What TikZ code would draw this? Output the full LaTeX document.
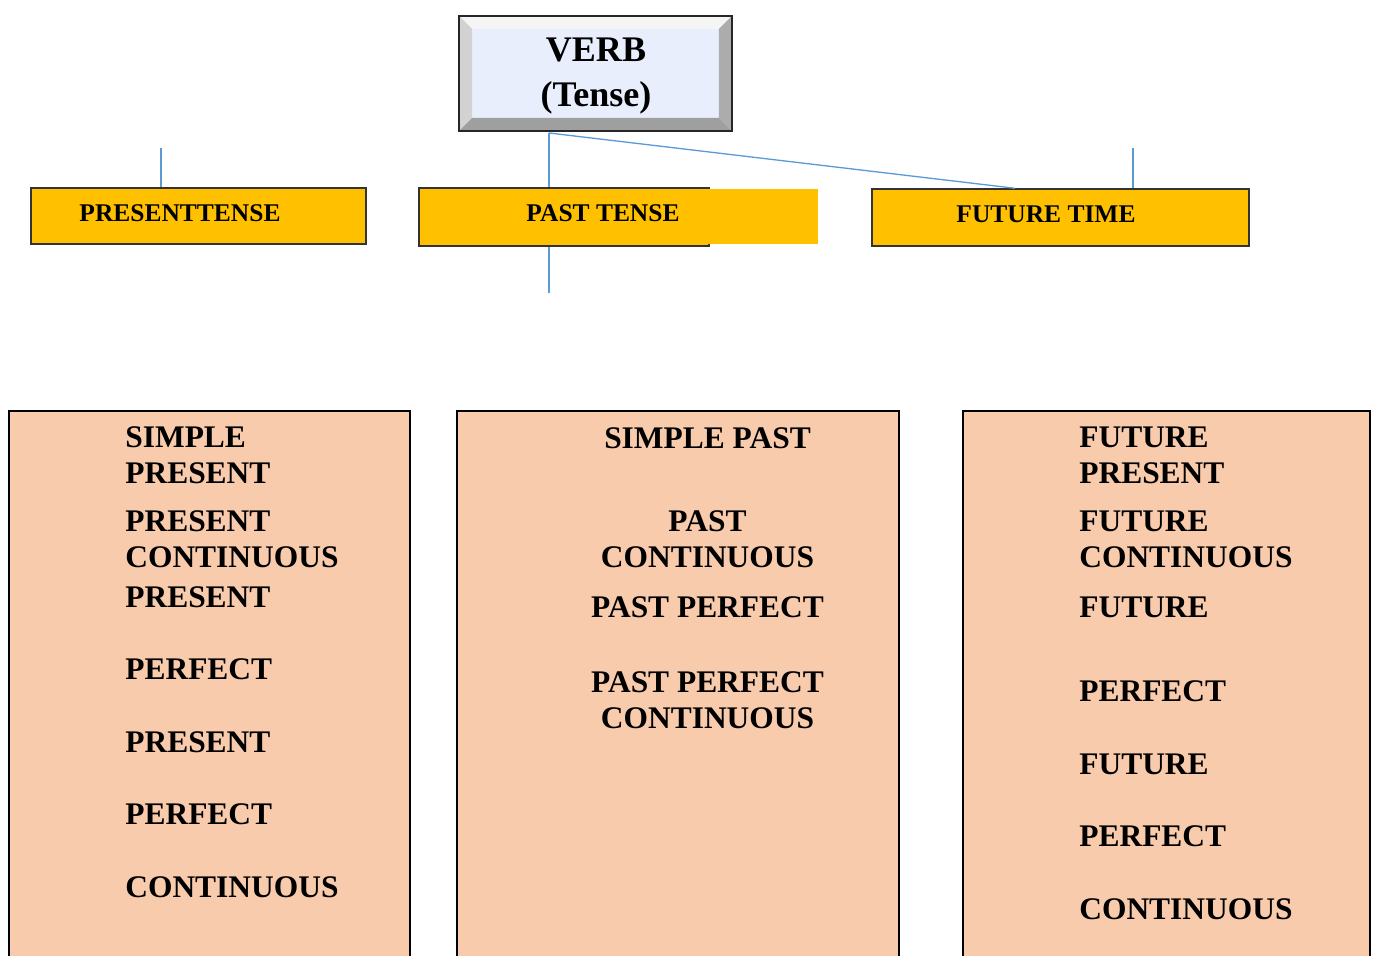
\documentclass[tikz,border=0pt]{standalone}
\usepackage{fontspec}
\setmainfont{Liberation Serif}
\usetikzlibrary{calc}
\definecolor{tenseyellow}{HTML}{FFC000}
\definecolor{formpeach}{HTML}{F8CBAD}
\definecolor{linkblue}{HTML}{5B9BD5}
\definecolor{verbfill}{HTML}{E8EEFC}
\tikzset{
  tensebox/.style={draw=black!80, line width=0.8pt, fill=tenseyellow, inner sep=0},
  formbox/.style={draw=black, line width=1.1pt, fill=formpeach, inner sep=0},
  link/.style={draw=linkblue, line width=0.75pt},
  verbtext/.style={font=\fontsize{20.5}{24}\selectfont\bfseries, inner sep=0, anchor=base},
  tensetext/.style={font=\fontsize{14.5}{16}\selectfont\bfseries, inner sep=0, anchor=base},
  formtext/.style={font=\fontsize{17.9}{20}\selectfont\bfseries, inner sep=0},
}
\begin{document}
\begin{tikzpicture}[x=0.02cm,y=-0.02cm]
\useasboundingbox (0,0) rectangle (1376,956);
\clip (0,0) rectangle (1376,956);

% top box with bevel
\node[fill=verbfill, minimum width=5.46cm, minimum height=2.3cm, inner sep=0, outer sep=0] (verb) at (595.5,73.5) {};
\fill[black!4] (verb.north west) -- (verb.north east) -- ($(verb.north east)+(-13,13)$) -- ($(verb.north west)+(13,13)$) -- cycle;
\fill[gray!35] (verb.north west) -- ($(verb.north west)+(13,13)$) -- ($(verb.south west)+(13,-13)$) -- (verb.south west) -- cycle;
\fill[gray!65] (verb.north east) -- (verb.south east) -- ($(verb.south east)+(-13,-13)$) -- ($(verb.north east)+(-13,13)$) -- cycle;
\fill[gray!75] (verb.south west) -- ($(verb.south west)+(13,-13)$) -- ($(verb.south east)+(-13,-13)$) -- (verb.south east) -- cycle;
\draw[line width=1.6pt, black!85] (verb.north west) rectangle (verb.south east);
\node[verbtext] (verbword) at (596,62) {VERB};
\node[verbtext] (tenseword) at (596,107) {(Tense)};

% links
\coordinate (pastjoint) at ($(verb.south west)!0.33!(verb.south east)+(0,2)$);
\coordinate (presentstub) at (161,148);
\coordinate (futurestub) at (1133,148);
\coordinate (pastdrop) at (549,293);

% tense boxes
\node[tensebox, minimum width=6.7cm, minimum height=1.12cm] (present) at (198.5,216) {};
\node[tensetext] (presentlbl) at (180,222) {PRESENTTENSE};
\node[tensebox, minimum width=5.8cm, minimum height=1.16cm] (past) at (564,217) {};
\fill[tenseyellow] (708,189.5) rectangle (818,244.5);
\node[tensetext] (pastlbl) at (603,222) {PAST TENSE};
\node[tensebox, minimum width=7.54cm, minimum height=1.14cm] (future) at (1060.5,217.5) {};
\node[tensetext] (futurelbl) at (1046,223) {FUTURE TIME};

\draw[link] (pastjoint) -- (pastjoint |- past.north);
\draw[link] (pastjoint) -- ($(future.north west)!0.38!(future.north east)$);
\draw[link] (presentstub) -- (presentstub |- present.north);
\draw[link] (futurestub) -- (futurestub |- future.north);
\draw[link] (pastdrop |- past.south) -- (pastdrop);

% form boxes
\node[formbox, minimum width=8.02cm, minimum height=11.4cm] (presentforms) at (209.5,696) {};
\node[formbox, minimum width=8.84cm, minimum height=11.4cm] (pastforms) at (678,696) {};
\node[formbox, minimum width=8.14cm, minimum height=11.4cm] (futureforms) at (1166.5,696) {};

\foreach \form/\y [count=\i] in {SIMPLE/447, PRESENT/483, PRESENT/531, CONTINUOUS/567, PRESENT/607, PERFECT/679, PRESENT/752, PERFECT/824, CONTINUOUS/897}
  \node[formtext, anchor=base west] (presentform\i) at (125,\y) {\form};
\foreach \form/\y [count=\i] in {SIMPLE PAST/448, PAST/531, CONTINUOUS/567, PAST PERFECT/617, PAST PERFECT/692, CONTINUOUS/728}
  \node[formtext, anchor=base] (pastform\i) at (707.5,\y) {\form};
\foreach \form/\y [count=\i] in {FUTURE/447, PRESENT/483, FUTURE/531, CONTINUOUS/567, FUTURE/617, PERFECT/701, FUTURE/774, PERFECT/846, CONTINUOUS/919}
  \node[formtext, anchor=base west] (futureform\i) at (1079,\y) {\form};
\end{tikzpicture}
\end{document}
